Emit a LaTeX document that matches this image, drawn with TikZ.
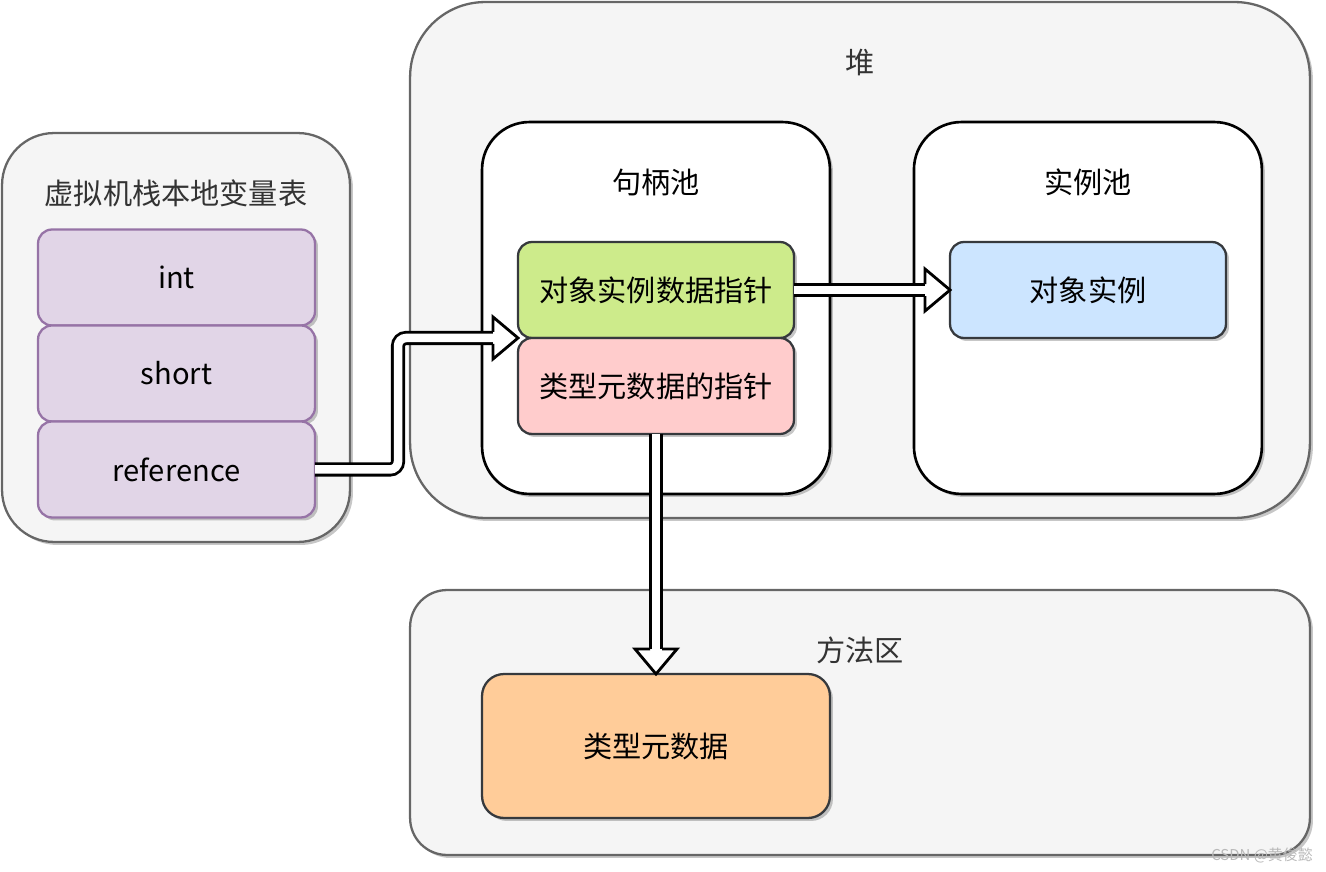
\documentclass[tikz,border=0pt]{standalone}
\usepackage{fontspec}
\setmainfont{Noto Sans CJK SC}
\usetikzlibrary{positioning, calc, shadows}

\definecolor{panelfill}{HTML}{F5F5F5}
\definecolor{panelline}{HTML}{666666}
\definecolor{labelgray}{HTML}{333333}
\definecolor{boxline}{HTML}{36393D}
\definecolor{varfill}{HTML}{E1D5E7}
\definecolor{varline}{HTML}{9673A6}
\definecolor{ptrfill}{HTML}{CDEB8B}
\definecolor{typefill}{HTML}{FFCCCC}
\definecolor{objfill}{HTML}{CCE5FF}
\definecolor{metafill}{HTML}{FFCC99}

\begin{document}
\begin{tikzpicture}[
    x=0.02cm, y=-0.02cm,
    every node/.style={font=\fontsize{16.6}{20}\selectfont, inner sep=0pt, outer sep=0pt},
    softshadow/.style={
        drop shadow={shadow xshift=0.06cm, shadow yshift=-0.06cm, fill=black, opacity=0.22}
    },
    panel/.style={
        rectangle,
        rounded corners=#1,
        draw=panelline,
        fill=panelfill,
        line width=1.3pt,
        softshadow
    },
    pool/.style={
        rectangle,
        rounded corners=0.95cm,
        draw=black,
        fill=white,
        line width=1.5pt,
        minimum width=6.96cm,
        minimum height=7.44cm,
        softshadow
    },
    cell/.style={
        rectangle,
        rounded corners=0.28cm,
        draw=boxline,
        line width=1.3pt,
        minimum width=5.52cm,
        minimum height=1.92cm,
        softshadow
    },
    var/.style={cell, draw=varline, fill=varfill, minimum width=5.54cm},
    title/.style={text=labelgray},
    shaft/.style={
        draw=black,
        line width=1.6pt,
        double=white,
        double distance=0.17cm,
        rounded corners=0.16cm
    },
    blockhead/.pic={
        \fill[white] (0,0) -- (-25,-21) -- (-25,21) -- cycle;
        \draw[line width=1.6pt, line join=miter] (-25,-6) -- (-25,-21) -- (0,0) -- (-25,21) -- (-25,6);
    }
]
\useasboundingbox (0,0) rectangle (1326,872);

% local variable table
\node[panel=1.04cm, minimum width=6.96cm, minimum height=8.18cm] (stack) at (176,337.5) {};
\node[title] (stacktitle) at ($(stack.north)+(0,60)$) {虚拟机栈本地变量表};
\node[var] (int) at (176.5,277.5) {int};
\node[var, below=0pt of int] (short) {short};
\node[var, below=0pt of short] (reference) {reference};

% heap
\node[panel=1.5cm, minimum width=18cm, minimum height=10.32cm] (heap) at (860,260) {};
\node[title] (heaptitle) at ($(heap.north)+(0,60)$) {堆};
\node[pool] (handles) at (656,308) {};
\node (handlestitle) at ($(handles.north)+(0,60)$) {句柄池};
\node[pool, right=1.68cm of handles] (instances) {};
\node (instancestitle) at ($(instances.north)+(0,60)$) {实例池};
\node[cell, fill=ptrfill] (objptr) at (656,290) {对象实例数据指针};
\node[cell, fill=typefill, below=0pt of objptr] (typeptr) {类型元数据的指针};
\node[cell, fill=objfill] (obj) at (1088,290) {对象实例};

% method area
\node[panel=0.74cm, minimum width=18cm, minimum height=5.3cm] (method) at (860,722.5) {};
\node[title] (methodtitle) at ($(method.north)+(0,60)$) {方法区};
\node[cell, fill=metafill, rounded corners=0.44cm, minimum width=6.96cm, minimum height=2.88cm] (meta) at (656,746) {类型元数据};

% block arrows
\draw[shaft] (reference.east) -| ($(objptr.south west)+(-120,0)$) -- ($(objptr.south west)+(-25,0)$);
\pic at (objptr.south west) {blockhead};
\draw[shaft] (objptr.east) -- ($(obj.west)+(-25,0)$);
\pic at (obj.west) {blockhead};
\draw[shaft] (typeptr.south) -- ($(meta.north)+(0,-25)$);
\pic[rotate=-90] at (meta.north) {blockhead};

\node[text=gray!55, font=\fontsize{8.5}{10}\selectfont] (mark) at (1262,855) {CSDN @黄俊懿};

\end{tikzpicture}
\end{document}
